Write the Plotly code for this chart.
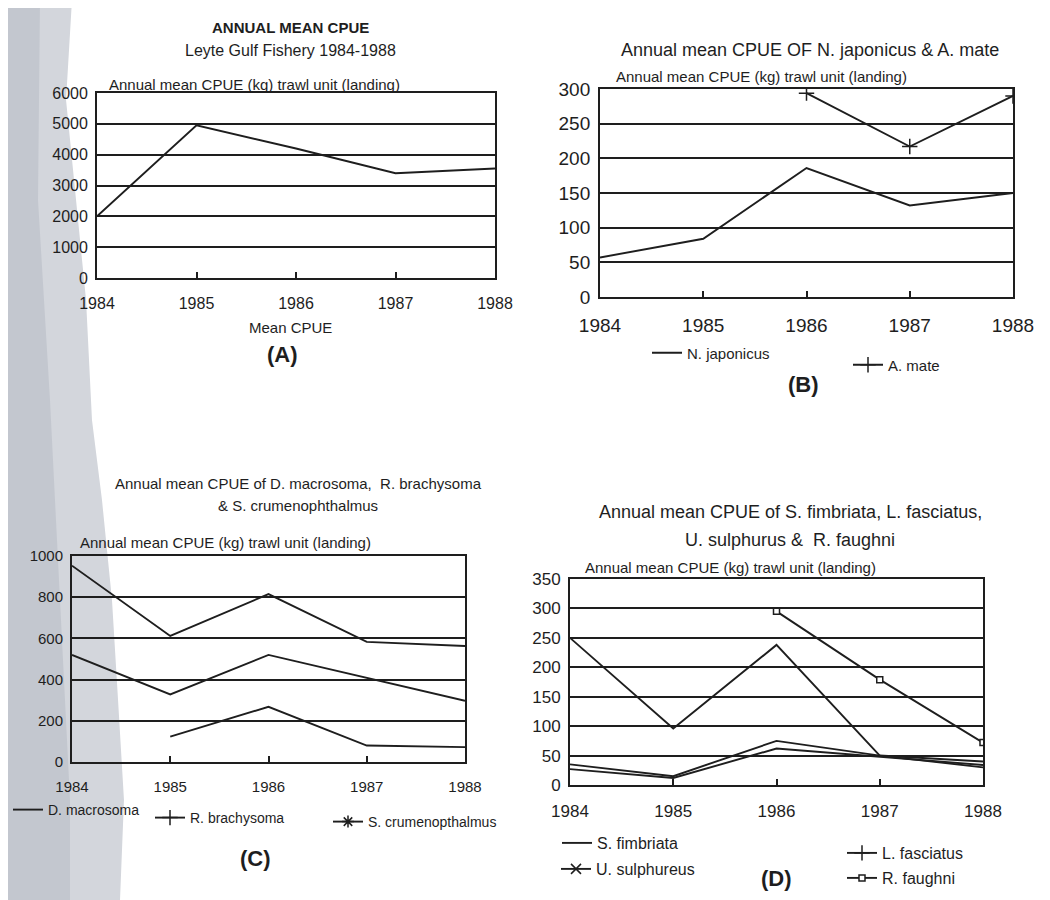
import plotly.graph_objects as go

years = [1984, 1985, 1986, 1987, 1988]
year_labels = ["1984", "1985", "1986", "1987", "1988"]

# (A) Leyte Gulf overall mean CPUE
mean_cpue = [2000, 4950, 4200, 3400, 3550]

# (B)
n_japonicus = [57, 84, 186, 132, 150]
a_mate = [None, None, 294, 217, 290]

# (C)
d_macrosoma = [953, 612, 815, 583, 563]
r_brachysoma = [520, 328, 520, 410, 297]
s_crumenopthalmus = [None, 123, 268, 80, 72]

# (D)
s_fimbriata = [250, 96, 238, 50, 30]
l_fasciatus = [35, 15, 75, 50, 40]
u_sulphureus = [27, 12, 62, 48, 34]
r_faughni = [None, None, 295, 179, 72]

# page offset of the plot div (browser body margin)
OFF = 8
W, H = 1050 - OFF, 900 - OFF
FONT = "Liberation Sans, Arial, sans-serif"
INK = "#1e1e1e"


def px(x):
    return (x - OFF) / W


def py(y):
    return 1 - (y - OFF) / H


fig = go.Figure()

LINE = dict(color=INK, width=1.9)


def mk(symbol, msize):
    return dict(symbol=symbol or "circle", size=msize, color="white",
                line=dict(color=INK, width=1.5))


def add(x, y, name, ax, legend=None, symbol=None, msize=9, markers_on_line=False):
    mode = "lines+markers" if markers_on_line else "lines"
    fig.add_trace(go.Scatter(
        x=x, y=y, name=name, mode=mode, line=LINE, marker=mk(symbol, msize),
        xaxis="x" + ax, yaxis="y" + ax, showlegend=False, connectgaps=False))
    if legend is not None:
        lmode = "lines+markers" if symbol else "lines"
        fig.add_trace(go.Scatter(
            x=[None], y=[None], name=name, mode=lmode, line=LINE, marker=mk(symbol, msize),
            xaxis="x" + ax, yaxis="y" + ax, showlegend=True, legend=legend))


add(years, mean_cpue, "Mean CPUE", "")
add(years, n_japonicus, "N. japonicus", "2", legend="legend")
add(years, a_mate, "A. mate", "2", legend="legend2", symbol="cross-thin", msize=11, markers_on_line=True)
add(years, d_macrosoma, "D. macrosoma", "3", legend="legend3")
add(years, r_brachysoma, "R. brachysoma", "3", legend="legend4", symbol="cross-thin", msize=11)
add(years, s_crumenopthalmus, "S. crumenopthalmus", "3", legend="legend5", symbol="asterisk", msize=10)
add(years, s_fimbriata, "S. fimbriata", "4", legend="legend6")
add(years, u_sulphureus, "U. sulphureus", "4", legend="legend7", symbol="x-thin", msize=10)
add(years, l_fasciatus, "L. fasciatus", "4", legend="legend8", symbol="cross-thin", msize=11)
add(years, r_faughni, "R. faughni", "4", legend="legend9", symbol="square", msize=6, markers_on_line=True)

panels = {
    "": dict(x=(97, 495), y=(93, 278), ymax=6000, dtick=1000, fs=16),
    "2": dict(x=(600, 1013), y=(89, 297), ymax=300, dtick=50, fs=19),
    "3": dict(x=(72, 465), y=(556, 762), ymax=1000, dtick=200, fs=15),
    "4": dict(x=(570, 983), y=(579, 785), ymax=350, dtick=50, fs=17),
}

layout = dict(
    width=W, height=H,
    margin=dict(l=0, r=0, t=0, b=0, pad=0, autoexpand=False),
    paper_bgcolor="white",
    plot_bgcolor="rgba(0,0,0,0)",
    font=dict(family=FONT, color=INK),
)

for k, p in panels.items():
    layout["xaxis" + k] = dict(
        domain=[px(p["x"][0]), px(p["x"][1])],
        anchor="y" + k, range=[1984, 1988],
        tickvals=years, ticktext=year_labels,
        ticks="inside", ticklen=6, tickcolor=INK, tickwidth=1.5,
        showline=True, mirror=True, linecolor=INK, linewidth=1.9,
        showgrid=False, zeroline=False, automargin=False,
        tickfont=dict(size=p["fs"], family=FONT, color=INK),
        ticklabelstandoff=10, fixedrange=True,
    )
    layout["yaxis" + k] = dict(
        domain=[py(p["y"][1]), py(p["y"][0])],
        anchor="x" + k, range=[0, p["ymax"]], dtick=p["dtick"],
        showgrid=True, gridcolor=INK, gridwidth=1.6,
        showline=True, mirror=True, linecolor=INK, linewidth=1.9,
        ticks="", zeroline=False, automargin=False,
        tickfont=dict(size=p["fs"], family=FONT, color=INK),
        ticklabelstandoff=4, fixedrange=True,
    )


def leg(xp, yp, fs):
    return dict(x=px(xp), y=py(yp), xanchor="left", yanchor="middle",
                bgcolor="rgba(0,0,0,0)", borderwidth=0,
                font=dict(size=fs, family=FONT, color=INK),
                itemwidth=30, tracegroupgap=0)


layout["legend"] = leg(647, 353, 15)
layout["legend2"] = leg(848, 365, 15)
layout["legend3"] = leg(8, 810, 14)
layout["legend4"] = leg(150, 818, 14)
layout["legend5"] = leg(328, 822, 14)
layout["legend6"] = leg(557, 843, 16)
layout["legend7"] = leg(556, 869, 16)
layout["legend8"] = leg(842, 853, 16)
layout["legend9"] = leg(842, 878, 16)

fig.update_layout(**layout)


def txt(x, y, s, size, bold=False, xanchor="center"):
    fig.add_annotation(
        x=px(x), y=py(y), xref="paper", yref="paper", text=("<b>%s</b>" % s) if bold else s,
        showarrow=False, xanchor=xanchor, yanchor="middle",
        font=dict(size=size, family=FONT, color=INK))


txt(290, 27, "ANNUAL MEAN CPUE", 15, bold=True)
txt(290, 51, "Leyte Gulf Fishery 1984-1988", 16)
txt(107, 84, "Annual mean CPUE (kg) trawl unit (landing)", 15, xanchor="left")
txt(290, 328, "Mean CPUE", 15)
txt(282, 355, "(A)", 22, bold=True)

txt(810, 50, "Annual mean CPUE OF N. japonicus &amp; A. mate", 18)
txt(614, 76, "Annual mean CPUE (kg) trawl unit (landing)", 15, xanchor="left")
txt(803, 385, "(B)", 22, bold=True)

txt(298, 483, "Annual mean CPUE of D. macrosoma,  R. brachysoma", 15)
txt(298, 505, "&amp; S. crumenophthalmus", 15)
txt(78, 542, "Annual mean CPUE (kg) trawl unit (landing)", 15, xanchor="left")
txt(255, 858, "(C)", 22, bold=True)

txt(790, 512, "Annual mean CPUE of S. fimbriata, L. fasciatus,", 18)
txt(790, 540, "U. sulphurus &amp;  R. faughni", 18)
txt(583, 567, "Annual mean CPUE (kg) trawl unit (landing)", 15, xanchor="left")
txt(777, 878, "(D)", 22, bold=True)

# scanned-page grey band along the left edge
band = [(0, 0), (72, 0), (66, 100), (76, 200), (86, 300), (92, 420), (102, 500),
        (112, 600), (118, 700), (124, 800), (120, 900), (0, 900)]
path = "M " + " L ".join("%.4f,%.4f" % (px(a), py(b)) for a, b in band) + " Z"
fig.add_shape(type="path", path=path, xref="paper", yref="paper",
              fillcolor="#d3d6dc", line=dict(width=0), layer="below")
band2 = [(0, 0), (40, 0), (38, 200), (50, 400), (60, 600), (70, 800), (70, 900), (0, 900)]
path2 = "M " + " L ".join("%.4f,%.4f" % (px(a), py(b)) for a, b in band2) + " Z"
fig.add_shape(type="path", path=path2, xref="paper", yref="paper",
              fillcolor="#c3c7cf", line=dict(width=0), layer="below")

fig.write_html("out.html")
